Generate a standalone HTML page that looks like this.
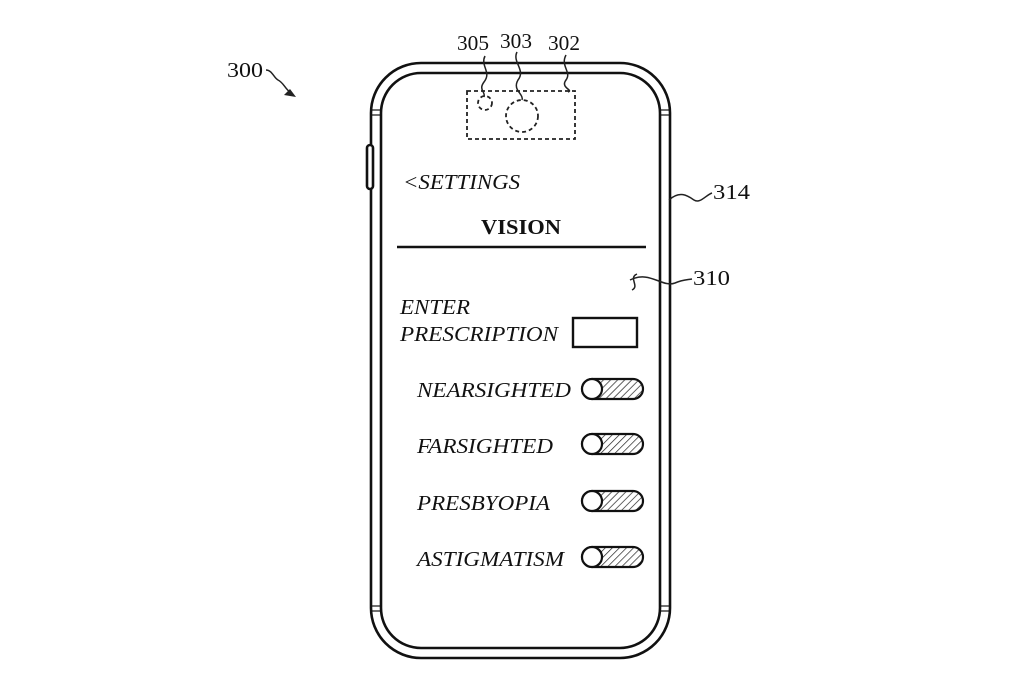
<!DOCTYPE html>
<html><head><meta charset="utf-8"><style>html,body{margin:0;padding:0;background:#fff}svg{display:block}</style></head>
<body>
<svg width="1024" height="693" viewBox="0 0 1024 693" xmlns="http://www.w3.org/2000/svg">
<defs>
<pattern id="h" width="5" height="5" patternUnits="userSpaceOnUse" patternTransform="rotate(45)">
<line x1="0" y1="0" x2="0" y2="5" stroke="#222" stroke-width="1.4"/>
</pattern>
</defs>
<g fill="none" stroke="#111" stroke-width="2.6">
<rect x="371" y="63" width="299" height="595" rx="50"/>
<rect x="381" y="73" width="279" height="575" rx="40"/>
<rect x="367" y="145" width="6" height="44" rx="3" fill="#fff"/>
<line x1="371" y1="110" x2="381" y2="110" stroke-width="1.2"/>
<line x1="371" y1="115" x2="381" y2="115" stroke-width="1.2"/>
<line x1="660" y1="110" x2="670" y2="110" stroke-width="1.2"/>
<line x1="660" y1="115" x2="670" y2="115" stroke-width="1.2"/>
<line x1="371" y1="606" x2="381" y2="606" stroke-width="1.2"/>
<line x1="371" y1="611" x2="381" y2="611" stroke-width="1.2"/>
<line x1="660" y1="606" x2="670" y2="606" stroke-width="1.2"/>
<line x1="660" y1="611" x2="670" y2="611" stroke-width="1.2"/>
</g>
<g fill="none" stroke="#222" stroke-width="1.8" stroke-dasharray="4,3">
<rect x="467" y="91" width="108" height="48"/>
<circle cx="522" cy="116" r="16"/>
<circle cx="485" cy="103" r="7"/>
</g>
<g fill="none" stroke="#222" stroke-width="1.5">
<path d="M485 56 C480 66,492 72,484 82 C478 90,486 92,484 97"/>
<path d="M517 52 C512 62,526 70,518 80 C512 90,524 94,522 100"/>
<path d="M566 55 C560 66,572 72,566 80 C560 88,574 90,568 92"/>
<path d="M266 70 C272 70,274 78,278 80 C284 83,284 88,292 94"/>
<path d="M669 200 C680 190,688 196,694 200 C700 204,706 195,712 193"/>
<path d="M637 274 C628 278,640 286,632 290 M630 280 C650 270,662 288,675 283 C682 280,686 280,692 279"/>
</g>
<polygon points="296,97 284,95 290,89" fill="#222"/>
<line x1="397" y1="247" x2="646" y2="247" stroke="#111" stroke-width="2.6"/>
<rect x="573" y="318" width="64" height="29" fill="none" stroke="#111" stroke-width="2.4"/>
<g stroke="#111" stroke-width="2.2">
<rect x="582" y="379" width="61" height="20" rx="10" fill="url(#h)"/><circle cx="592" cy="389" r="10" fill="#fff"/>
<rect x="582" y="434" width="61" height="20" rx="10" fill="url(#h)"/><circle cx="592" cy="444" r="10" fill="#fff"/>
<rect x="582" y="491" width="61" height="20" rx="10" fill="url(#h)"/><circle cx="592" cy="501" r="10" fill="#fff"/>
<rect x="582" y="547" width="61" height="20" rx="10" fill="url(#h)"/><circle cx="592" cy="557" r="10" fill="#fff"/>
</g>
<g font-family="Liberation Serif, serif" fill="#111" font-size="21">
<text x="457" y="50" textLength="32" lengthAdjust="spacingAndGlyphs">305</text>
<text x="500" y="48" textLength="32" lengthAdjust="spacingAndGlyphs">303</text>
<text x="548" y="50" textLength="32" lengthAdjust="spacingAndGlyphs">302</text>
<text x="227" y="77" textLength="36" lengthAdjust="spacingAndGlyphs">300</text>
<text x="713" y="199" textLength="37" lengthAdjust="spacingAndGlyphs">314</text>
<text x="693" y="285" textLength="37" lengthAdjust="spacingAndGlyphs">310</text>
</g>
<g font-family="Liberation Serif, serif" font-style="italic" fill="#111" font-size="21">
<text x="403" y="189" textLength="117" lengthAdjust="spacingAndGlyphs">&lt;SETTINGS</text>
<text x="400" y="314" textLength="70" lengthAdjust="spacingAndGlyphs">ENTER</text>
<text x="400" y="341" textLength="158" lengthAdjust="spacingAndGlyphs">PRESCRIPTION</text>
<text x="417" y="397" textLength="154" lengthAdjust="spacingAndGlyphs">NEARSIGHTED</text>
<text x="417" y="453" textLength="136" lengthAdjust="spacingAndGlyphs">FARSIGHTED</text>
<text x="417" y="510" textLength="133" lengthAdjust="spacingAndGlyphs">PRESBYOPIA</text>
<text x="417" y="566" textLength="147" lengthAdjust="spacingAndGlyphs">ASTIGMATISM</text>
</g>
<text x="481" y="234" font-family="Liberation Serif, serif" font-weight="bold" font-size="21" fill="#111" textLength="80" lengthAdjust="spacingAndGlyphs">VISION</text>
</svg>
</body></html>
